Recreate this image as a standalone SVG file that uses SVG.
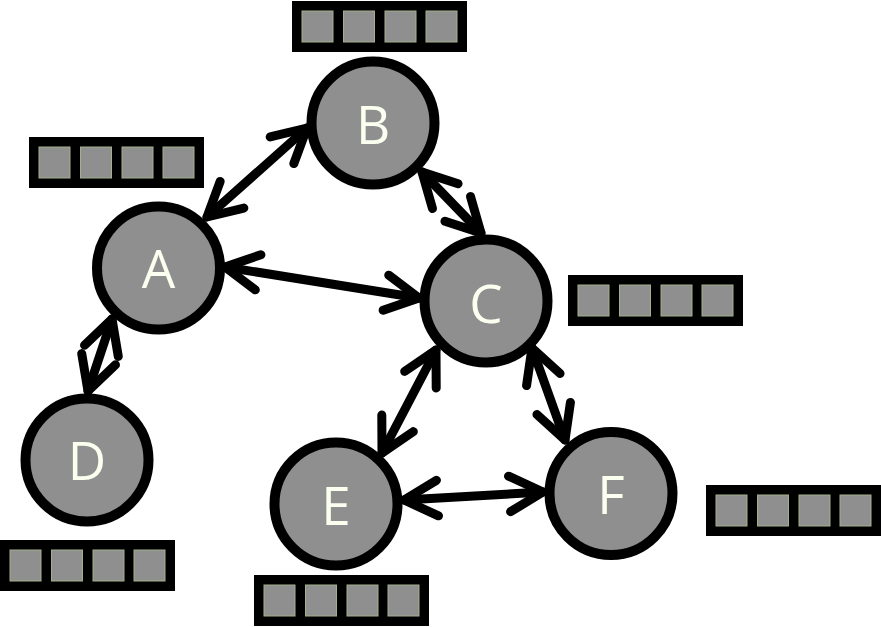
<svg xmlns="http://www.w3.org/2000/svg" xmlns:xlink="http://www.w3.org/1999/xlink" width="881" height="627" viewBox="0 0 881 627">
<style>
.node circle{fill:#8f8f8f;stroke:#000;stroke-width:10}
.node text{font-family:"Open Sans","Noto Sans",sans-serif;font-size:53px;fill:#fbfff0;text-anchor:middle}
.edge{fill:none;stroke:#000;stroke-width:9;stroke-linecap:round;marker-start:url(#h);marker-end:url(#h)}
.sq{fill:#8f8f8f;stroke:#a2b08c;stroke-width:1}
</style>
<defs>
<marker id="h" markerUnits="userSpaceOnUse" orient="auto-start-reverse" overflow="visible" markerWidth="1" markerHeight="1" refX="0" refY="0">
<path d="M-33.5,-17.8 L0,0 L-33.5,17.8" fill="none" stroke="#000" stroke-width="9" stroke-linecap="round" stroke-linejoin="round"/>
</marker>
<g id="reg">
<rect x="0" y="0" width="175" height="51" fill="#000"/>
<rect class="sq" x="10" y="10" width="31" height="31"/>
<rect class="sq" x="51.5" y="10" width="31" height="31"/>
<rect class="sq" x="93" y="10" width="31" height="31"/>
<rect class="sq" x="134" y="10" width="31" height="31"/>
</g>
</defs>
<rect width="881" height="627" fill="#fff"/>
<g id="connectors">
<path class="edge" d="M207,217 L307,128"/>
<path class="edge" d="M225,267 L419,298"/>
<path class="edge" d="M112,319 L88,391"/>
<path class="edge" d="M422,172 L481,233"/>
<path class="edge" d="M436,350 L382,453"/>
<path class="edge" d="M532,348 L565,440"/>
<path class="edge" d="M404,500 L543,492"/>
</g>
<g id="node-A" class="node">
<circle cx="158.5" cy="268" r="61.5"/>
<text x="158.5" y="288">A</text>
<use xlink:href="#reg" x="29" y="137"/>
</g>
<g id="node-B" class="node">
<circle cx="373" cy="123" r="61.5"/>
<text x="373" y="144">B</text>
<use xlink:href="#reg" x="292" y="1"/>
</g>
<g id="node-C" class="node">
<circle cx="486" cy="301" r="61.5"/>
<text x="486" y="323">C</text>
<use xlink:href="#reg" x="568" y="275"/>
</g>
<g id="node-D" class="node">
<circle cx="87" cy="460" r="61.5"/>
<text x="87" y="480">D</text>
<use xlink:href="#reg" x="0" y="540"/>
</g>
<g id="node-E" class="node">
<circle cx="336" cy="504" r="61.5"/>
<text x="336" y="525">E</text>
<use xlink:href="#reg" x="254" y="575"/>
</g>
<g id="node-F" class="node">
<circle cx="611" cy="493.5" r="61.5"/>
<text x="611" y="514">F</text>
<use xlink:href="#reg" x="706" y="485"/>
</g>
</svg>
